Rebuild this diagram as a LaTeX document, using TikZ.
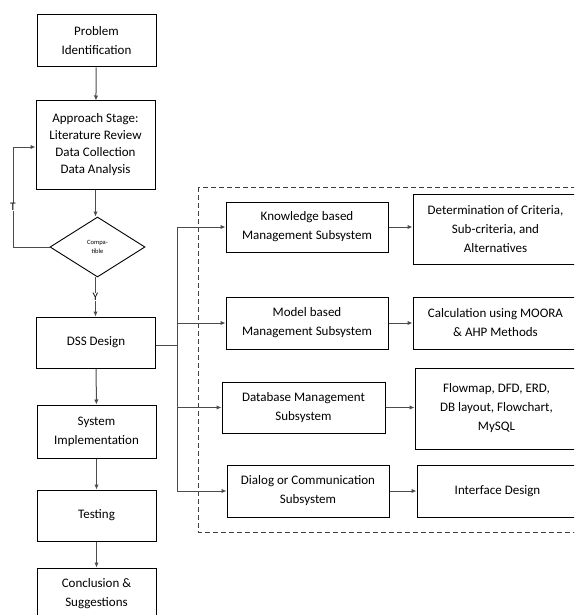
\documentclass[tikz,border=0pt]{standalone}
\usepackage{fontspec}
\setmainfont{Carlito}
\usetikzlibrary{shapes.geometric,arrows.meta}
\begin{document}
\begin{tikzpicture}[x=1pt,y=-1pt,
  box/.style={draw=black,line width=1pt,align=center,inner sep=1pt,font=\fontsize{13}{19}\selectfont},
  lnk/.style={draw=black!70,line width=1pt},
  arr/.style={lnk,-{Latex[length=5pt,width=4.5pt]}},
  lbl/.style={fill=white,inner sep=0.5pt,font=\fontsize{11.5}{12}\selectfont}]
\useasboundingbox (0,0) rectangle (574,615);
\clip (0,0) rectangle (574,615);
% left column
\node[box,minimum width=119,minimum height=52] (p1) at (96.5,41) {Problem\\Identification};
\node[box,minimum width=119,minimum height=88,font=\fontsize{13}{17}\selectfont] (p2) at (95.5,145) {Approach Stage:\\Literature Review\\Data Collection\\Data Analysis};
\node[diamond,draw=black,line width=0.9pt,inner sep=0pt,minimum width=95,minimum height=60,align=center,font=\fontsize{6.5}{9}\selectfont] (dia) at (97.5,247) {Compa-\\tible};
\node[box,minimum width=119,minimum height=51] (dss) at (96,342.5) {DSS Design};
\node[box,minimum width=119,minimum height=53] (si) at (96.5,431.5) {System\\Implementation};
\node[box,minimum width=119,minimum height=51] (te) at (96.5,515.5) {Testing};
\node[box,minimum width=119,minimum height=52] (co) at (96.5,594) {Conclusion \&\\Suggestions};
% dashed frame
\draw[black!75,line width=0.9pt,dash pattern=on 5pt off 3pt] (198,187) rectangle (590,532);
% subsystems
\node[box,minimum width=162,minimum height=50] (k) at (307,227) {Knowledge based\\Management Subsystem};
\node[box,minimum width=162,minimum height=52] (m) at (307,323) {Model based\\Management Subsystem};
\node[box,minimum width=163,minimum height=51] (d) at (303.5,407.5) {Database Management\\Subsystem};
\node[box,minimum width=162,minimum height=52] (g) at (308,491) {Dialog or Communication\\Subsystem};
% outputs
\node[box,minimum width=165,minimum height=70] (det) at (495.5,229) {Determination of Criteria,\\Sub-criteria, and\\Alternatives};
\node[box,minimum width=165,minimum height=52] (calc) at (495.5,323) {Calculation using MOORA\\\& AHP Methods};
\node[box,minimum width=163,minimum height=81] (flow) at (496.5,408.5) {Flowmap, DFD, ERD,\\DB layout, Flowchart,\\MySQL};
\node[box,minimum width=161,minimum height=52] (intf) at (497.5,491) {Interface Design};
% main flow
\draw[arr] (p1) -- (p2);
\draw[arr] (p2) -- (p2.south |- dia.north);
\draw[arr] (dia.south -| p2.south) -- (dss.north -| p2.south) node[lbl,pos=0.5] {Y};
\draw[arr] (dss) -- (si);
\draw[arr] (si) -- (te);
\draw[arr] (te) -- (co);
% feedback
\coordinate (fb) at (13,147);
\draw[arr] (dia.west) -| (fb) -- (fb -| p2.west);
\node[lbl] (tl) at (13,207) {T};
% trunk
\coordinate (tr) at (177,345);
\draw[lnk] (dss.east |- tr) -- (tr);
\draw[arr] (tr) |- (k.west);
\draw[arr] (tr) |- (m.west);
\draw[arr] (tr) |- (d.west);
\draw[arr] (tr) |- (g.west);
\draw[arr] (k.east) -- (k.east -| det.west);
\draw[arr] (m.east) -- (m.east -| calc.west);
\draw[arr] (d.east) -- (d.east -| flow.west);
\draw[arr] (g.east) -- (g.east -| intf.west);
\end{tikzpicture}
\end{document}
